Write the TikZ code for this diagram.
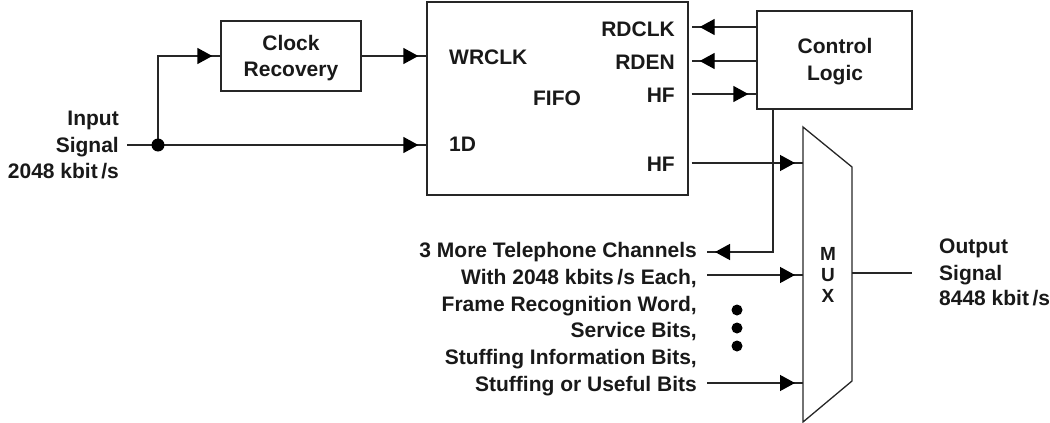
\documentclass[tikz,border=0pt]{standalone}
\usepackage{fontspec}
\setmainfont{Liberation Sans}
\usetikzlibrary{arrows.meta,decorations.markings,calc}
\tikzset{
  wire/.style={line width=1.3pt, draw=black!85},
  arr/.style={wire, postaction={decorate}, decoration={markings,
     mark=at position -8pt with {\arrow[black]{Triangle[length=15pt,width=16pt]}}}},
  lbl/.style={inner sep=0pt, font=\fontsize{21}{26.7}\selectfont\bfseries, text=black!90},
  muxl/.style={lbl, anchor=base, font=\fontsize{19}{21}\selectfont\bfseries},
  blk/.style={draw=black!85, line width=1.3pt, inner sep=0pt},
}
\begin{document}
\begin{tikzpicture}[x=1pt,y=-1pt]
\useasboundingbox (0,0) rectangle (1050,423);
% boxes
\node[blk, minimum width=140pt, minimum height=70pt] (clk) at (291,56) {};
\node[blk, minimum width=261pt, minimum height=193pt] (fifo) at (557.5,98.5) {};
\node[blk, minimum width=155pt, minimum height=98pt] (ctrl) at (834.5,60) {};
% MUX trapezoid
\coordinate (mtl) at (803,127);
\coordinate (mbl) at (803,422);
\coordinate (mtr) at (852,167);
\coordinate (mbr) at (852,381);
\draw[wire] (mtl) -- (mtr) -- (mbr) -- (mbl) -- cycle;
% texts
\node[lbl, anchor=base] (clkA) at (291,50) {Clock};
\node[lbl, anchor=base] (clkB) at (291,76) {Recovery};
\node[lbl, anchor=base] (ctlA) at (835,53) {Control};
\node[lbl, anchor=base] (ctlB) at (835,80) {Logic};
\node[lbl, anchor=base east] (inA) at (119,125) {Input};
\node[lbl, anchor=base east] (inB) at (119,152) {Signal};
\node[lbl, anchor=base east] (inC) at (119,178) {2048 kbit\,/s};
\node[lbl, anchor=base west] (wr) at (449,64) {WRCLK};
\node[lbl, anchor=base west] (d1) at (449,151) {1D};
\node[lbl, anchor=base] (ff) at (557,105) {FIFO};
\node[lbl, anchor=base east] (rdclk) at (675,36) {RDCLK};
\node[lbl, anchor=base east] (rden) at (675,69) {RDEN};
\node[lbl, anchor=base east] (hf1) at (675,102) {HF};
\node[lbl, anchor=base east] (hf2) at (675,171) {HF};
\node[muxl] (mM) at (828,260) {M};
\node[muxl] (mU) at (828,281) {U};
\node[muxl] (mX) at (828,302) {X};
\node[lbl, anchor=base west] (outA) at (939,253) {Output};
\node[lbl, anchor=base west] (outB) at (939,280) {Signal};
\node[lbl, anchor=base west] (outC) at (939,305) {8448 kbit\,/s};
\node[lbl, anchor=base east] (t1) at (697,257) {3 More Telephone Channels};
\node[lbl, anchor=base east] (t2) at (697,284) {With 2048 kbits\,/s Each,};
\node[lbl, anchor=base east] (t3) at (697,311) {Frame Recognition Word,};
\node[lbl, anchor=base east] (t4) at (697,337) {Service Bits,};
\node[lbl, anchor=base east] (t5) at (697,364) {Stuffing Information Bits,};
\node[lbl, anchor=base east] (t6) at (697,391) {Stuffing or Useful Bits};
% connectors
\coordinate (inL) at (127,145);
\coordinate (dot) at (158,145);
\draw[wire] (inL) -- (dot);
\draw[arr] (dot) -- (fifo.west |- dot);
\draw[arr] (dot) |- (clk.west);
\fill[black] (dot) circle (6.5pt);
\draw[arr] (clk.east) -- (fifo.west |- clk.east);
\draw[arr] (ctrl.west |- 0,27) -- ([xshift=3pt]fifo.east |- 0,27);
\draw[arr] (ctrl.west |- 0,61) -- ([xshift=3pt]fifo.east |- 0,61);
\draw[arr] ([xshift=3pt]fifo.east |- 0,94) -- (ctrl.west |- 0,94);
\draw[arr] ([xshift=3pt]fifo.east |- 0,163) -- (mtl |- 0,163);
\coordinate (tel) at (707,252);
\draw[arr] (ctrl.south -| 773,0) -- (773,252) -- (tel);
\coordinate (w1) at (707,275);
\coordinate (w6) at (707,383);
\draw[arr] (w1) -- (mtl |- w1);
\draw[arr] (w6) -- (mtl |- w6);
\coordinate (outE) at (912,273);
\draw[wire] (mtr |- outE) -- (outE);
% dots
\coordinate (d1c) at (737,310);
\coordinate (d2c) at (737,328);
\coordinate (d3c) at (737,346);
\fill (d1c) circle (5.5pt) (d2c) circle (5.5pt) (d3c) circle (5.5pt);
\end{tikzpicture}
\end{document}
